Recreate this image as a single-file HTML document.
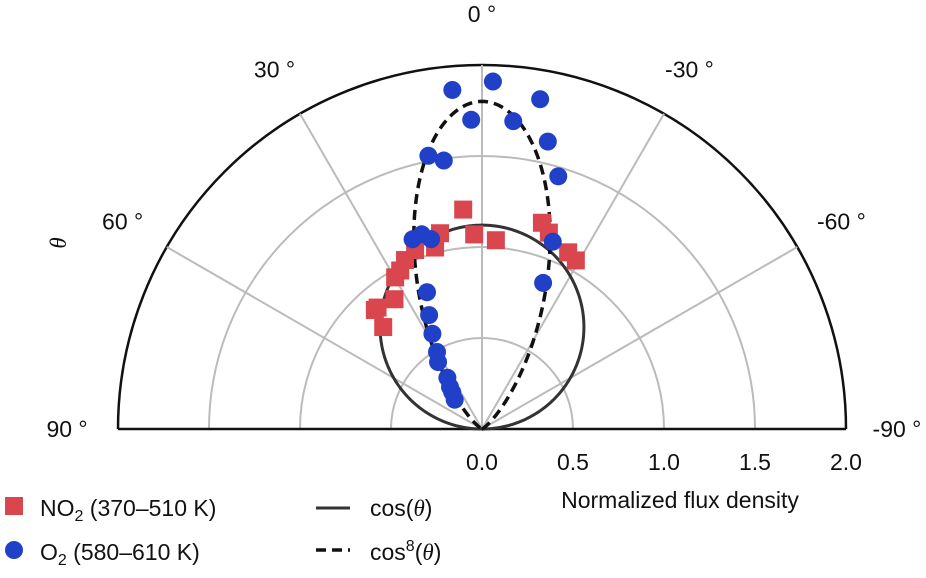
<!DOCTYPE html>
<html><head><meta charset="utf-8"><style>
body{margin:0;background:#fff;}
svg{display:block;font-family:"Liberation Sans",sans-serif;}
</style></head><body>
<svg id="chart" width="926" height="578" viewBox="0 0 926 578">
<g id="grid"></g>
<g id="curves"></g>
<g id="points"></g>
<g id="labels" font-size="23" fill="#111"></g>
<g font-size="23" fill="#111">
  <rect x="5" y="497" width="18" height="18" fill="#d9464e"/>
  <text x="40" y="516">NO<tspan font-size="16" dy="5">2</tspan><tspan dy="-5"> (370–510 K)</tspan></text>
  <circle cx="14" cy="550" r="9" fill="#2140c8"/>
  <text x="40" y="560">O<tspan font-size="16" dy="5">2</tspan><tspan dy="-5"> (580–610 K)</tspan></text>
  <line x1="316" y1="508" x2="350" y2="508" stroke="#333" stroke-width="3"/>
  <text x="370" y="516">cos(<tspan font-family="Liberation Serif" font-style="italic">θ</tspan>)</text>
  <line x1="316" y1="550" x2="350" y2="550" stroke="#111" stroke-width="3.5" stroke-dasharray="10,6"/>
  <text x="370" y="560">cos<tspan font-size="16" dy="-9">8</tspan><tspan dy="9">(</tspan><tspan font-family="Liberation Serif" font-style="italic">θ</tspan>)</text>
</g>
</svg>
<script>
const radialTicks=[0.0,0.5,1.0,1.5,2.0];
const angleTicks=[0,30,60,90,-30,-60,-90];
const no2Theta=[4.9,2.3,-4.2,12.1,14.5,20.5,-16.2,-18.8,-26.0,-29.1,24.5,27.3,29.8,34.0,40.7,42.0,44.1];
const no2R=[1.21,1.07,1.04,1.10,1.03,1.05,1.18,1.14,1.08,1.06,1.02,0.98,0.96,0.86,0.88,0.88,0.78];
const o2Theta=[5.0,-1.8,-10.0,2.0,-5.8,-12.9,11.1,8.1,-16.8,20.1,17.2,15.0,-20.7,-22.7,21.9,24.9,27.5,30.3,33.3,34.0,37.3,39.0,43.0];
const o2R=[1.87,1.91,1.84,1.70,1.70,1.62,1.53,1.49,1.45,1.11,1.12,1.08,1.10,0.87,0.81,0.69,0.59,0.49,0.44,0.34,0.29,0.26,0.22];
const cosAmp=1.12, cos8Amp=1.8;

const NS="http://www.w3.org/2000/svg";
const cx=482, cy=429, rMax=2.0, pxR=364;
function rs(r){return r/rMax*pxR;}
function px(th,r){const a=th*Math.PI/180;return [cx-rs(r)*Math.sin(a), cy-rs(r)*Math.cos(a)];}
function mk(tag,attrs,parent){const e=document.createElementNS(NS,tag);for(const k in attrs)e.setAttribute(k,attrs[k]);parent.appendChild(e);return e;}
const grid=document.getElementById('grid'),curves=document.getElementById('curves'),pts=document.getElementById('points'),labels=document.getElementById('labels');

radialTicks.forEach(t=>{
  if(t<=0)return;
  const R=rs(t);
  const outer=t===rMax;
  const e=mk('path',{d:`M${cx-R},${cy} A${R},${R} 0 0 1 ${cx+R},${cy}`,fill:'none',stroke:outer?'#111':'#bbb','stroke-width':outer?2.5:2},grid);
  
  
  const l=mk('text',{x:cx+R,y:cy+41,'text-anchor':'middle'},labels);
  l.textContent=t.toFixed(1);
  
  
});
const z=mk('text',{x:cx,y:cy+41,'text-anchor':'middle'},labels);z.textContent='0.0';


angleTicks.forEach(a=>{
  if(Math.abs(a)===90)return;
  const [x,y]=px(a,rMax);
  const s=mk('line',{x1:cx,y1:cy,x2:x,y2:y,stroke:'#bbb','stroke-width':2},grid);
  
  
});
const base=mk('line',{x1:cx-pxR,y1:cy,x2:cx+pxR,y2:cy,stroke:'#111','stroke-width':2.5},grid);


angleTicks.forEach(a=>{
  const [x,y]=px(a,rMax*1.14);
  const t=mk('text',{x:x,y:y+8,'text-anchor':'middle'},labels);
  t.textContent=a+' °';
  
  
});
const th=mk('text',{x:0,y:0,transform:'translate(66,243) rotate(-90)','text-anchor':'middle','font-family':'Liberation Serif','font-style':'italic'},labels);
th.textContent='θ';


const xt=mk('text',{x:680,y:508,'text-anchor':'middle'},labels);
xt.textContent='Normalized flux density';



function curve(f,amp){let d='';for(let a=-90;a<=90;a+=0.5){const [x,y]=px(a,amp*f(a*Math.PI/180));d+=(d?'L':'M')+x.toFixed(2)+','+y.toFixed(2);}return d;}
const c1=mk('path',{d:curve(a=>Math.cos(a),cosAmp),fill:'none',stroke:'#333','stroke-width':3},curves);


const c8=mk('path',{d:curve(a=>Math.pow(Math.cos(a),8),cos8Amp),fill:'none',stroke:'#111','stroke-width':3.5,'stroke-dasharray':'10,6'},curves);



no2Theta.forEach((t,i)=>{
  const [x,y]=px(t,no2R[i]);
  const r=mk('rect',{x:x-9,y:y-9,width:18,height:18,fill:'#d9464e'},pts);
  
  
});
o2Theta.forEach((t,i)=>{
  const [x,y]=px(t,o2R[i]);
  const c=mk('circle',{cx:x,cy:y,r:9,fill:'#2140c8'},pts);
  
  
});
</script>
</body></html>
